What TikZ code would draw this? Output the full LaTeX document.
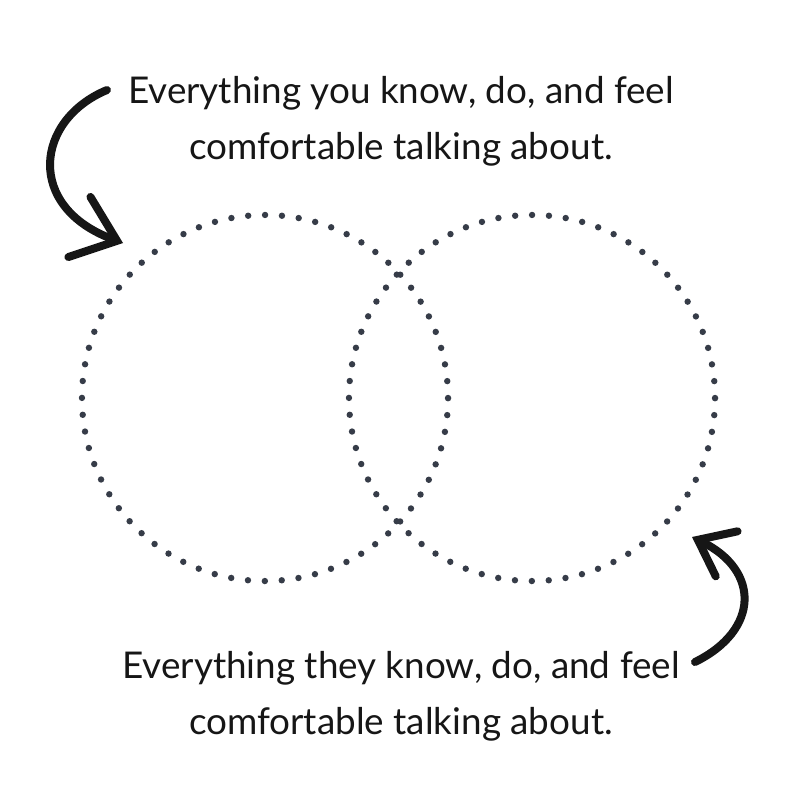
\documentclass[tikz,border=0pt]{standalone}
\usepackage{fontspec}
\setmainfont{Lato}
\usetikzlibrary{arrows.meta}
\definecolor{dotgray}{HTML}{363C48}
\definecolor{inkblack}{HTML}{161616}

\begin{document}
\begin{tikzpicture}[x=0.025cm,y=-0.025cm,
  venn/.style={circle,minimum size=9.15cm,inner sep=0pt,draw=dotgray,line width=0.16cm,
    line cap=round,dash pattern=on 0pt off 0.4227cm},
  say/.style={align=center,text=inkblack,font=\fontsize{26.2}{39.8}\selectfont},
  pointer/.style={draw=inkblack,line width=0.2cm,line cap=round,line join=round}
]
\useasboundingbox[fill=white] (0,0) rectangle (800,800);

% the two overlapping circles
\node[venn] (youcircle)  at (265,398) {};
\node[venn] (theycircle) at (532,398) {};

% labels
\node[say] (youtext)  at (401,121) {Everything you know, do, and feel\\comfortable talking about.};
\node[say] (theytext) at (401,696) {Everything they know, do, and feel\\comfortable talking about.};

% hand drawn pointers
\coordinate (youstart)  at (107,90);
\coordinate (youtip)    at (123,243);
\coordinate (theystart) at (695,662);
\coordinate (theytip)   at (692,537);

\draw[pointer,-{Straight Barb[length=1.0cm,width=1.6cm,line cap=round]}]
  (youstart) .. controls (35,120) and (25,207) .. (youtip);
\draw[pointer,-{Straight Barb[length=0.8cm,width=1.25cm,line cap=round]}]
  (theystart) .. controls (760,630) and (760,570) .. (theytip);

\end{tikzpicture}
\end{document}
